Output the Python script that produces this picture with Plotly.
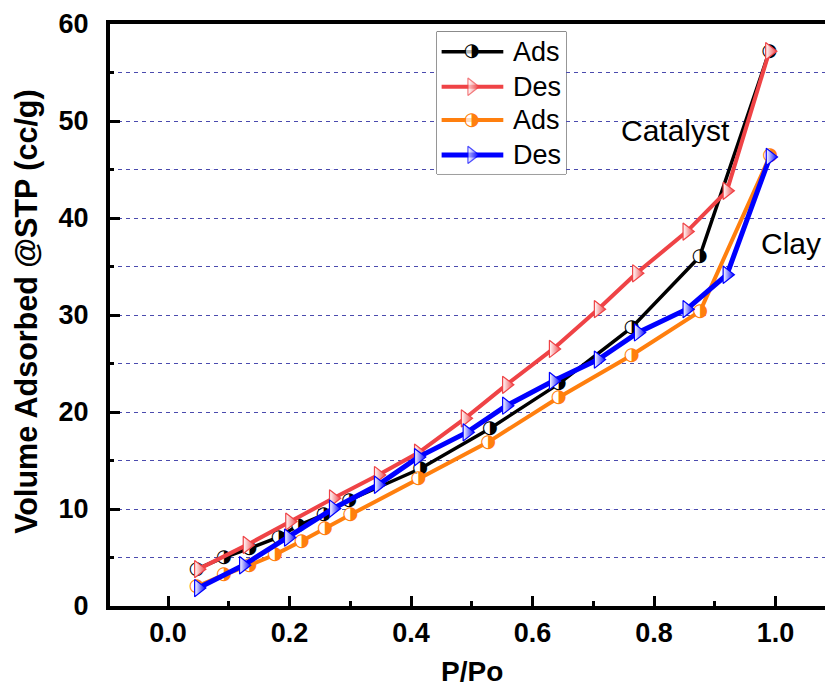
import math
import plotly.graph_objects as go

# Nitrogen sorption isotherms (relative pressure vs adsorbed volume)
p_cat_ads = [0.047, 0.092, 0.134, 0.182, 0.214, 0.256, 0.298, 0.415, 0.530, 0.643, 0.763, 0.875, 0.990]
v_cat_ads = [3.8, 5.0, 5.95, 7.1, 8.3, 9.4, 10.9, 14.15, 18.3, 22.9, 28.7, 36.0, 57.2]

p_cat_des = [0.990, 0.920, 0.854, 0.771, 0.708, 0.634, 0.557, 0.489, 0.412, 0.346, 0.272, 0.200, 0.130, 0.050]
v_cat_des = [57.2, 42.8, 38.6, 34.3, 30.6, 26.5, 22.8, 19.35, 15.8, 13.5, 11.1, 8.7, 6.3, 3.8]

p_clay_ads = [0.047, 0.092, 0.134, 0.176, 0.220, 0.258, 0.300, 0.412, 0.527, 0.643, 0.763, 0.876, 0.991]
v_clay_ads = [2.0, 3.2, 4.2, 5.3, 6.7, 8.0, 9.4, 13.1, 16.9, 21.5, 25.85, 30.4, 46.4]

p_clay_des = [0.991, 0.920, 0.854, 0.774, 0.708, 0.634, 0.557, 0.492, 0.412, 0.346, 0.272, 0.198, 0.124, 0.050]
v_clay_des = [46.3, 34.15, 30.6, 28.2, 25.4, 23.2, 20.65, 17.9, 15.35, 12.5, 10.05, 7.05, 4.2, 1.85]

series_names = ["Ads", "Des", "Ads", "Des"]
series_colors = ["#000000", "#EF4346", "#FF7F0E", "#0000FF"]
series_symbols = ["circle", "triangle-right", "circle", "triangle-right"]
series_widths = [3.5, 4, 4, 5]
x_ticks = [0.0, 0.2, 0.4, 0.6, 0.8, 1.0]
y_ticks = [0, 10, 20, 30, 40, 50, 60]

FONT = "Liberation Sans, Arial, sans-serif"
HALF_CIRCLE = "\u25D1"  # circle with right half filled

series = [
    (p_cat_ads, v_cat_ads),
    (p_cat_des, v_cat_des),
    (p_clay_ads, v_clay_ads),
    (p_clay_des, v_clay_des),
]


def add_series(fig, i, px, vy, xa, ya, marker_sizes=None):
    col = series_colors[i]
    if series_symbols[i] == "circle":
        size = 12 if marker_sizes is None else [12 if s else 0 for s in marker_sizes]
        fig.add_trace(go.Scatter(
            x=px, y=vy, mode="lines+markers",
            line=dict(color=col, width=series_widths[i]),
            marker=dict(symbol="circle", size=size, color="white", line=dict(width=0)),
            showlegend=False, hoverinfo="skip", xaxis=xa, yaxis=ya,
        ))
        txt = [HALF_CIRCLE if (marker_sizes is None or s) else "" for s in (marker_sizes or px)]
        fig.add_trace(go.Scatter(
            x=px, y=vy, mode="text", text=txt, textposition="middle center",
            textfont=dict(family="DejaVu Sans", size=18, color=col),
            showlegend=False, hoverinfo="skip", xaxis=xa, yaxis=ya,
        ))
    else:
        size = 15 if marker_sizes is None else [15 if s else 0 for s in marker_sizes]
        fig.add_trace(go.Scatter(
            x=px, y=vy, mode="lines+markers",
            line=dict(color=col, width=series_widths[i]),
            marker=dict(symbol="triangle-right", size=size, color="white",
                        gradient=dict(type="horizontal", color=col),
                        line=dict(color=col, width=1.2)),
            showlegend=False, hoverinfo="skip", xaxis=xa, yaxis=ya,
        ))


fig = go.Figure()
for i, (px, vy) in enumerate(series):
    add_series(fig, i, px, vy, "x", "y")

# Legend drawn on its own small axis pair
leg_rows = [0.859, 0.613, 0.379, 0.134]
for i, ry in enumerate(leg_rows):
    add_series(fig, i, [0.036, 0.269, 0.514], [ry, ry, ry], "x2", "y2",
               marker_sizes=[0, 1, 0])
    fig.add_annotation(x=0.575, y=ry, xref="x2", yref="y2", text=series_names[i],
                       showarrow=False, xanchor="left", yanchor="middle",
                       font=dict(family=FONT, size=27, color="black"))

fig.add_shape(type="rect", xref="paper", yref="paper",
              x0=0.4573, x1=0.6378, y0=0.7423, y1=0.9868,
              line=dict(color="#333333", width=1), fillcolor="rgba(0,0,0,0)", layer="below")

fig.add_annotation(x=0.835, y=49.0, xref="x", yref="y", text="Catalyst", showarrow=False,
                   font=dict(family=FONT, size=30, color="black"))
fig.add_annotation(x=1.0255, y=37.4, xref="x", yref="y", text="Clay", showarrow=False,
                   font=dict(family=FONT, size=30, color="black"))

# Axis titles
fig.add_annotation(x=0.506, y=-0.1134, xref="paper", yref="paper", text="P/Po", showarrow=False,
                   xanchor="center", yanchor="middle",
                   font=dict(family=FONT, size=28, color="black", weight="bold"))
fig.add_annotation(x=-0.118, y=0.505, xref="paper", yref="paper",
                   text="Volume Adsorbed @STP (cc/g)", showarrow=False, textangle=-90,
                   xanchor="center", yanchor="middle",
                   font=dict(family=FONT, size=30.5, color="black", weight="bold"))

tickfont = dict(family=FONT, size=27, color="black", weight="bold")
fig.update_layout(
    width=825, height=688,
    margin=dict(l=110, r=0, t=24, b=82),
    paper_bgcolor="white", plot_bgcolor="white",
    xaxis=dict(
        range=[-0.0955, 1.0815], tickvals=x_ticks, ticktext=[f"{v:.1f}" for v in x_ticks],
        ticks="inside", ticklen=10, tickwidth=3, tickcolor="black",
        showline=True, linewidth=4, linecolor="black", mirror=True,
        showgrid=False, zeroline=False, tickfont=tickfont,
        minor=dict(dtick=0.1, tick0=0, ticks="inside", ticklen=5, tickwidth=3,
                   tickcolor="black", showgrid=False),
    ),
    yaxis=dict(
        range=[0, 60], tickvals=y_ticks,
        ticks="inside", ticklen=10, tickwidth=3, tickcolor="black",
        showline=True, linewidth=4, linecolor="black", mirror=False,
        showgrid=False, zeroline=False, tickfont=tickfont, ticklabelstandoff=12,
        minor=dict(dtick=5, tick0=0, ticks="inside", ticklen=4, tickwidth=3,
                   tickcolor="black", showgrid=True, gridcolor="#4B4BAE",
                   gridwidth=1, griddash="4px,4px"),
    ),
    xaxis2=dict(domain=[0.4573, 0.6378], range=[0, 1], visible=False, fixedrange=True,
                anchor="y2"),
    yaxis2=dict(domain=[0.7423, 0.9868], range=[0, 1], visible=False, fixedrange=True,
                anchor="x2"),
    showlegend=False,
)

fig.write_html("out.html")
